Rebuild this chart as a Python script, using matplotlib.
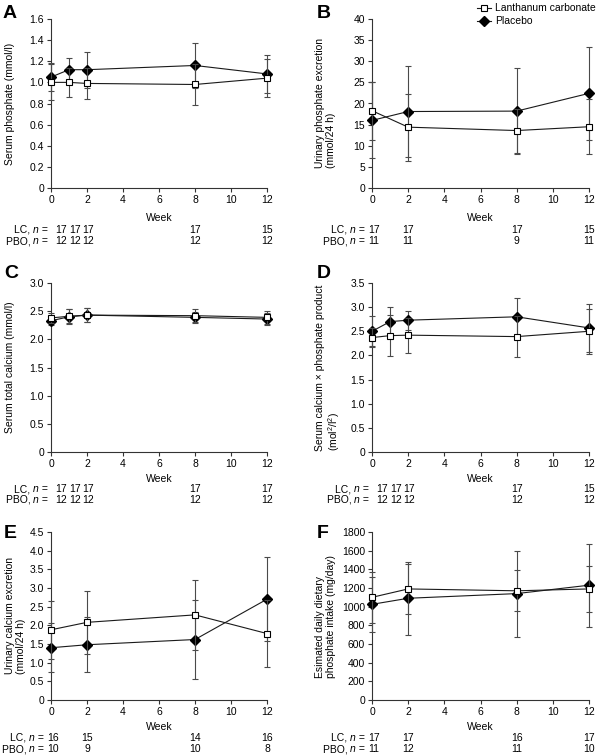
import numpy as np
import matplotlib
matplotlib.use("Agg")
import matplotlib.pyplot as plt
from matplotlib.lines import Line2D
from matplotlib.transforms import blended_transform_factory, ScaledTranslation

plt.rcParams['font.family'] = ['Liberation Sans', 'DejaVu Sans']
plt.rcParams['mathtext.fontset'] = 'custom'
plt.rcParams['mathtext.rm'] = 'Liberation Sans'
plt.rcParams['mathtext.it'] = 'Liberation Sans:italic'
plt.rcParams['font.size'] = 7.5

# weeks per panel
weeks_5 = [0, 1, 2, 8, 12]
weeks_4 = [0, 2, 8, 12]

# A: serum phosphate (mmol/l)
a_lc = [1.00, 1.00, 0.99, 0.98, 1.04]
a_lc_err = [0.17, 0.14, 0.15, 0.19, 0.18]
a_pbo = [1.05, 1.12, 1.12, 1.16, 1.08]
a_pbo_err = [0.13, 0.11, 0.17, 0.21, 0.18]
a_n_lc = [17, 17, 17, 17, 15]
a_n_pbo = [12, 12, 12, 12, 12]

# B: urinary phosphate excretion (mmol/24 h)
b_lc = [18.3, 14.4, 13.6, 14.5]
b_lc_err = [6.9, 7.9, 5.2, 6.5]
b_pbo = [16.0, 18.1, 18.2, 22.4]
b_pbo_err = [9.0, 10.7, 10.2, 11.0]
b_n_lc = [17, 17, 17, 15]
b_n_pbo = [11, 11, 9, 11]

# C: serum total calcium (mmol/l)
c_lc = [2.38, 2.41, 2.43, 2.42, 2.39]
c_lc_err = [0.09, 0.12, 0.12, 0.11, 0.12]
c_pbo = [2.33, 2.40, 2.43, 2.39, 2.36]
c_pbo_err = [0.07, 0.13, 0.12, 0.10, 0.10]
c_n_lc = [17, 17, 17, 17, 17]
c_n_pbo = [12, 12, 12, 12, 12]

# D: serum calcium x phosphate product
d_lc = [2.37, 2.41, 2.42, 2.39, 2.50]
d_lc_err = [0.20, 0.42, 0.36, 0.42, 0.47]
d_pbo = [2.50, 2.70, 2.73, 2.80, 2.57]
d_pbo_err = [0.31, 0.30, 0.20, 0.39, 0.50]
d_n_lc = [17, 17, 17, 17, 15]
d_n_pbo = [12, 12, 12, 12, 12]

# E: urinary calcium excretion (mmol/24 h)
e_lc = [1.88, 2.08, 2.28, 1.78]
e_lc_err = [0.78, 0.85, 0.94, 0.90]
e_pbo = [1.40, 1.48, 1.62, 2.70]
e_pbo_err = [0.66, 0.74, 1.07, 1.13]
e_n_lc = [16, 15, 14, 16]
e_n_pbo = [10, 9, 10, 8]

# F: estimated daily dietary phosphate intake (mg/day)
f_lc = [1100, 1190, 1170, 1190]
f_lc_err = [270, 270, 220, 250]
f_pbo = [1025, 1090, 1140, 1230]
f_pbo_err = [295, 390, 460, 445]
f_n_lc = [17, 17, 16, 17]
f_n_pbo = [11, 12, 11, 10]

panels = [
    ("A", weeks_5, a_lc, a_lc_err, a_pbo, a_pbo_err, a_n_lc, a_n_pbo,
     "Serum phosphate (mmol/l)", np.arange(0, 1.61, 0.2), "{:.1f}"),
    ("B", weeks_4, b_lc, b_lc_err, b_pbo, b_pbo_err, b_n_lc, b_n_pbo,
     "Urinary phosphate excretion\n(mmol/24 h)", np.arange(0, 41, 5), "{:.0f}"),
    ("C", weeks_5, c_lc, c_lc_err, c_pbo, c_pbo_err, c_n_lc, c_n_pbo,
     "Serum total calcium (mmol/l)", np.arange(0, 3.01, 0.5), "{:.1f}"),
    ("D", weeks_5, d_lc, d_lc_err, d_pbo, d_pbo_err, d_n_lc, d_n_pbo,
     "Serum calcium \u00d7 phosphate product\n(mol$^2$/l$^2$)", np.arange(0, 3.51, 0.5), "{:.1f}"),
    ("E", weeks_4, e_lc, e_lc_err, e_pbo, e_pbo_err, e_n_lc, e_n_pbo,
     "Urinary calcium excretion\n(mmol/24 h)", np.arange(0, 4.51, 0.5), "{:.1f}"),
    ("F", weeks_4, f_lc, f_lc_err, f_pbo, f_pbo_err, f_n_lc, f_n_pbo,
     "Esimated daily dietary\nphosphate intake (mg/day)", np.arange(0, 1801, 200), "{:.0f}"),
]

W, H = 600, 756
fig = plt.figure(figsize=(6, 7.56), dpi=100)

# axes boxes in pixels: left, top, right, bottom
col_x = [(51, 267), (372, 589)]
row_y = [(19, 188), (283, 452), (532, 700)]
# offsets (px) below the x axis: Week, LC row, PBO row
row_off = [(30, 42, 53), (27, 37, 48), (27, 38, 49)]
letter_xy = [(3, 5), (317, 5), (4, 265), (317, 265), (4, 525), (317, 525)]
ylab_x = [5, 315]

line_col = '#1a1a1a'
err_col = '#4a4a4a'


def n_label(x_px, y_px, group):
    # "LC, n =" built from plain pieces so n can be italic
    y = 1 - y_px / H
    fig.text(x_px / W, y, " =", ha='right', va='center', fontsize=7.5)
    fig.text((x_px - 9) / W, y, "n", ha='right', va='center', fontsize=7.5, style='italic')
    fig.text((x_px - 14.8) / W, y, group + ", ", ha='right', va='center', fontsize=7.5)


for i, (letter, wk, lc, lc_err, pbo, pbo_err, n_lc, n_pbo, ylab, yt, fmt) in enumerate(panels):
    r, c = divmod(i, 2)
    x0, x1 = col_x[c]
    y0, y1 = row_y[r]
    ax = fig.add_axes([x0 / W, 1 - y1 / H, (x1 - x0) / W, (y1 - y0) / H])

    ax.errorbar(wk, pbo, yerr=pbo_err, color=line_col, ecolor=err_col, elinewidth=0.8,
                capsize=2.2, capthick=0.8, lw=0.8, marker='D', ms=5.5, mfc='black',
                mec='black', clip_on=False, zorder=3)
    ax.errorbar(wk, lc, yerr=lc_err, color=line_col, ecolor=err_col, elinewidth=0.8,
                capsize=2.2, capthick=0.8, lw=0.8, marker='s', ms=5, mfc='white',
                mec='black', mew=0.8, clip_on=False, zorder=4)

    ax.set_xlim(0, 12)
    ax.set_ylim(yt[0], yt[-1])
    ax.set_xticks([0, 2, 4, 6, 8, 10, 12])
    ax.set_yticks(yt)
    ax.set_yticklabels(["0"] + [fmt.format(v) for v in yt[1:]])
    for s in ['top', 'right']:
        ax.spines[s].set_visible(False)
    for s in ['left', 'bottom']:
        ax.spines[s].set_linewidth(0.8)
        ax.spines[s].set_color('#333333')
    ax.tick_params(direction='out', length=3, width=0.8, color='#333333', labelsize=7.5, pad=2)

    # y label, left edge aligned per column
    fig.text(ylab_x[c] / W, 1 - (y0 + y1) / 2 / H, ylab, rotation=90, ha='left', va='center',
             fontsize=7.5, linespacing=1.1)

    # panel letter
    lx, ly = letter_xy[i]
    fig.text(lx / W, 1 - ly / H, letter, fontsize=14, fontweight='bold', ha='left', va='top')

    # week label and n rows
    wo, lo, po = row_off[r]
    tr = blended_transform_factory(ax.transData, ax.transAxes)
    ax.text(6, 0, "Week", transform=tr + ScaledTranslation(0, -wo / 100, fig.dpi_scale_trans),
            ha='center', va='center', fontsize=7.5)
    if len(wk) == 5:
        shift = [10, 6, 1, 0, 0]
    else:
        shift = [2, 0, 0, 0]
    for j, w in enumerate(wk):
        off = ScaledTranslation(shift[j] / 100, -lo / 100, fig.dpi_scale_trans)
        ax.text(w, 0, str(n_lc[j]), transform=tr + off, ha='center', va='center', fontsize=7.5)
        off = ScaledTranslation(shift[j] / 100, -po / 100, fig.dpi_scale_trans)
        ax.text(w, 0, str(n_pbo[j]), transform=tr + off, ha='center', va='center', fontsize=7.5)
    lab_x = x0 - 3 if len(wk) == 5 else x0 - 7
    n_label(lab_x, y1 + lo, "LC")
    n_label(lab_x, y1 + po, "PBO")

# legend
handles = [
    Line2D([], [], color=line_col, lw=0.8, marker='s', ms=5, mfc='white', mec='black', mew=0.8),
    Line2D([], [], color=line_col, lw=0.8, marker='D', ms=5.5, mfc='black', mec='black'),
]
fig.legend(handles, ["Lanthanum carbonate", "Placebo"], loc='upper left',
           bbox_to_anchor=(470 / W, 1 + 4 / H), frameon=False, fontsize=7.5,
           handlelength=1.3, handletextpad=0.4, labelspacing=0.3, borderpad=0.2)

fig.savefig("out.png", dpi=100)
